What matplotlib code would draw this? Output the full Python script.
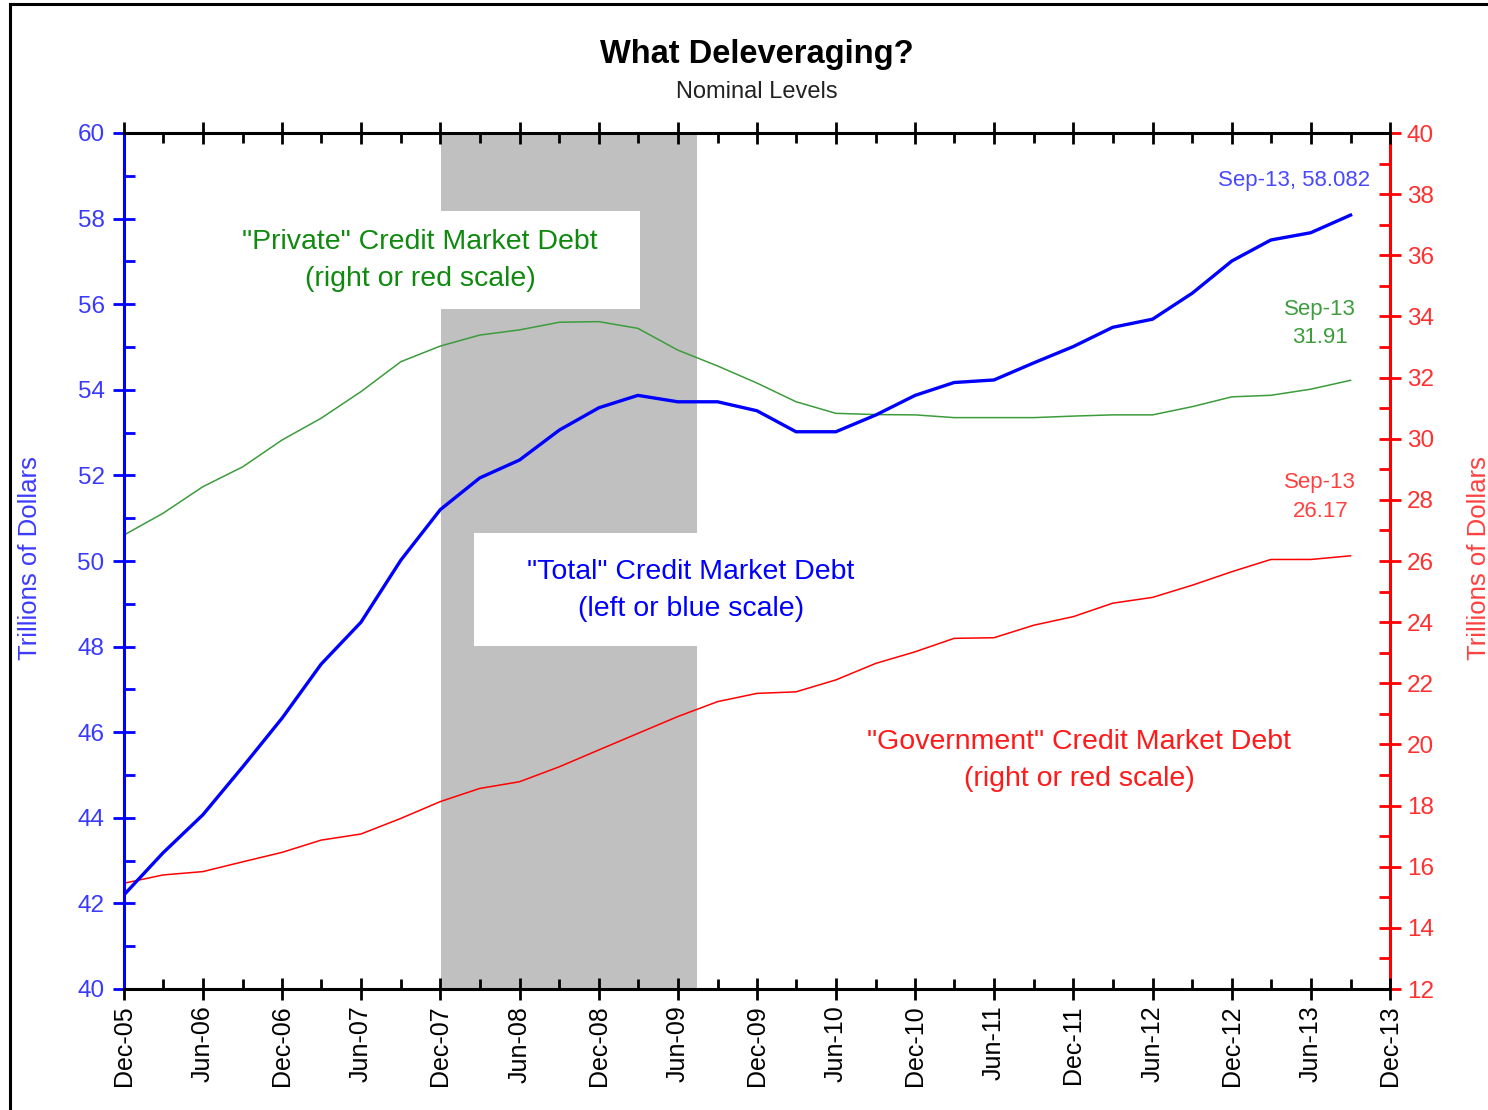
import numpy as np
import matplotlib
matplotlib.use("Agg")
import matplotlib.pyplot as plt
import matplotlib.dates as mdates
from matplotlib.patches import Rectangle
from matplotlib.lines import Line2D
from matplotlib.ticker import MultipleLocator

plt.rcParams['font.family'] = ['Liberation Sans', 'DejaVu Sans']

# quarterly observations, Dec-05 .. Sep-13 (trillions of dollars)
quarters = np.arange('2005-12', '2013-10', 3, dtype='datetime64[M]')
total = [42.2, 43.18, 44.07, 45.19, 46.33, 47.59, 48.57, 50.02, 51.2, 51.94,
         52.36, 53.06, 53.58, 53.87, 53.72, 53.72, 53.51, 53.02, 53.02, 53.41,
         53.87, 54.17, 54.23, 54.63, 55.01, 55.46, 55.65, 56.26, 57.01, 57.5,
         57.67, 58.082]
private = [26.85, 27.56, 28.43, 29.08, 29.96, 30.67, 31.54, 32.52, 33.03, 33.39,
           33.56, 33.81, 33.83, 33.61, 32.9, 32.38, 31.82, 31.21, 30.83, 30.79,
           30.78, 30.69, 30.69, 30.69, 30.74, 30.78, 30.78, 31.05, 31.37, 31.42,
           31.62, 31.91]
government = [15.46, 15.73, 15.84, 16.16, 16.47, 16.87, 17.07, 17.58, 18.13, 18.56,
              18.78, 19.27, 19.82, 20.36, 20.91, 21.4, 21.67, 21.72, 22.11, 22.65,
              23.03, 23.47, 23.49, 23.9, 24.18, 24.62, 24.81, 25.21, 25.65, 26.05,
              26.05, 26.17]
recession = (np.datetime64('2007-12-03'), np.datetime64('2009-07-15'))

BLUE = '#0000ff'
RED = '#ff0000'
GREEN = '#3c9c3c'

fig = plt.figure(figsize=(14.88, 11.10), dpi=100)
ax = fig.add_axes([124/1488, 1 - 989/1110, 1266/1488, 856/1110])
ax2 = ax.twinx()

# blue axis on top so the total line is drawn above the others
ax.set_zorder(ax2.get_zorder() + 1)
ax.patch.set_visible(False)

# recession shading + white label boxes (bottom layer)
ax2.axvspan(recession[0], recession[1], color='#c0c0c0', lw=0, zorder=0)
ax2.add_patch(Rectangle((0.060, 0.7944), 0.3476, 0.1145, transform=ax2.transAxes,
                        fc='white', ec='none', zorder=1))
ax2.add_patch(Rectangle((0.2765, 0.4007), 0.3428, 0.132, transform=ax2.transAxes,
                        fc='white', ec='none', zorder=1))

ax2.plot(quarters, private, color=GREEN, lw=1.1, zorder=3)
ax2.plot(quarters, government, color=RED, lw=1.1, zorder=3)
ax.plot(quarters, total, color=BLUE, lw=2.4, zorder=4)

ax.set_xlim(np.datetime64('2005-12'), np.datetime64('2013-12'))
ax.set_ylim(40, 60)
ax2.set_ylim(12, 40)

# x axis
ax.xaxis.set_major_locator(mdates.MonthLocator(bymonth=[6, 12], bymonthday=1))
ax.xaxis.set_minor_locator(mdates.MonthLocator(bymonth=[3, 6, 9, 12], bymonthday=1))
ax.xaxis.set_major_formatter(mdates.DateFormatter('%b-%y'))
ax.tick_params(axis='x', which='major', direction='inout', length=16, width=2,
               top=True, bottom=True, labelsize=18, labelrotation=90, pad=4, color='black')
ax.tick_params(axis='x', which='minor', direction='in', length=7, width=2,
               top=True, bottom=True)

# left axis
ax.yaxis.set_major_locator(MultipleLocator(2))
ax.yaxis.set_minor_locator(MultipleLocator(1))
ax.tick_params(axis='y', which='major', direction='inout', length=16, width=2,
               color=BLUE, labelcolor='#3a3aff', labelsize=17.5, pad=6)
ax.tick_params(axis='y', which='minor', direction='in', length=8, width=2, color=BLUE)

# right axis
ax2.yaxis.set_major_locator(MultipleLocator(2))
ax2.yaxis.set_minor_locator(MultipleLocator(1))
ax2.tick_params(axis='y', which='major', direction='inout', length=16, width=2,
                color=RED, labelcolor='#ff3030', labelsize=17.5, pad=4)
ax2.tick_params(axis='y', which='minor', direction='in', length=8, width=2, color=RED)

for s in ['top', 'bottom']:
    ax.spines[s].set_linewidth(2.2)
    ax.spines[s].set_color('black')
ax.spines['left'].set_color(BLUE)
ax.spines['left'].set_linewidth(2.2)
ax.spines['right'].set_visible(False)
for s in ['left', 'top', 'bottom']:
    ax2.spines[s].set_visible(False)
ax2.spines['right'].set_color(RED)
ax2.spines['right'].set_linewidth(2.2)

# labels inside the plot
ax2.text(0.2338, 0.8505, '"Private" Credit Market Debt\n(right or red scale)',
         transform=ax2.transAxes, ha='center', va='center', fontsize=20.5,
         color='#0f8a0f', linespacing=1.55, zorder=5)
ax2.text(0.4479, 0.465, '"Total" Credit Market Debt\n(left or blue scale)',
         transform=ax2.transAxes, ha='center', va='center', fontsize=20.5,
         color=BLUE, linespacing=1.55, zorder=5)
ax2.text(0.7543, 0.2675, '"Government" Credit Market Debt\n(right or red scale)',
         transform=ax2.transAxes, ha='center', va='center', fontsize=20.5,
         color='#ff1a1a', linespacing=1.55, zorder=5)

ax2.text(0.924, 0.945, f'Sep-13, {total[-1]:.3f}', transform=ax2.transAxes,
         ha='center', va='center', fontsize=16, color='#4848ff', zorder=5)
ax2.text(0.945, 0.777, f'Sep-13\n{private[-1]:.2f}', transform=ax2.transAxes,
         ha='center', va='center', fontsize=16, color='#3d9d3d', linespacing=1.45, zorder=5)
ax2.text(0.945, 0.5748, f'Sep-13\n{government[-1]:.2f}', transform=ax2.transAxes,
         ha='center', va='center', fontsize=16, color='#ff4040', linespacing=1.45, zorder=5)

# titles and axis labels
fig.text(757/1488, 1 - 55/1110, 'What Deleveraging?', ha='center', va='center',
         fontsize=23.5, fontweight='bold', color='black')
fig.text(757/1488, 1 - 92/1110, 'Nominal Levels', ha='center', va='center',
         fontsize=17, color='#222222')
fig.text(30/1488, 1 - 558/1110, 'Trillions of Dollars', ha='center', va='center',
         rotation=90, fontsize=18.5, color='#3b3bff')
fig.text(1479/1488, 1 - 558/1110, 'Trillions of Dollars', ha='center', va='center',
         rotation=90, fontsize=18.5, color='#ff4040')

# outer frame of the screenshot
fig.add_artist(Line2D([10/1488, 10/1488], [0, 1 - 4/1110], transform=fig.transFigure,
                      color='black', lw=2.2))
fig.add_artist(Line2D([10/1488, 1], [1 - 4/1110, 1 - 4/1110], transform=fig.transFigure,
                      color='black', lw=2.2))

fig.savefig('out.png', dpi=100)
